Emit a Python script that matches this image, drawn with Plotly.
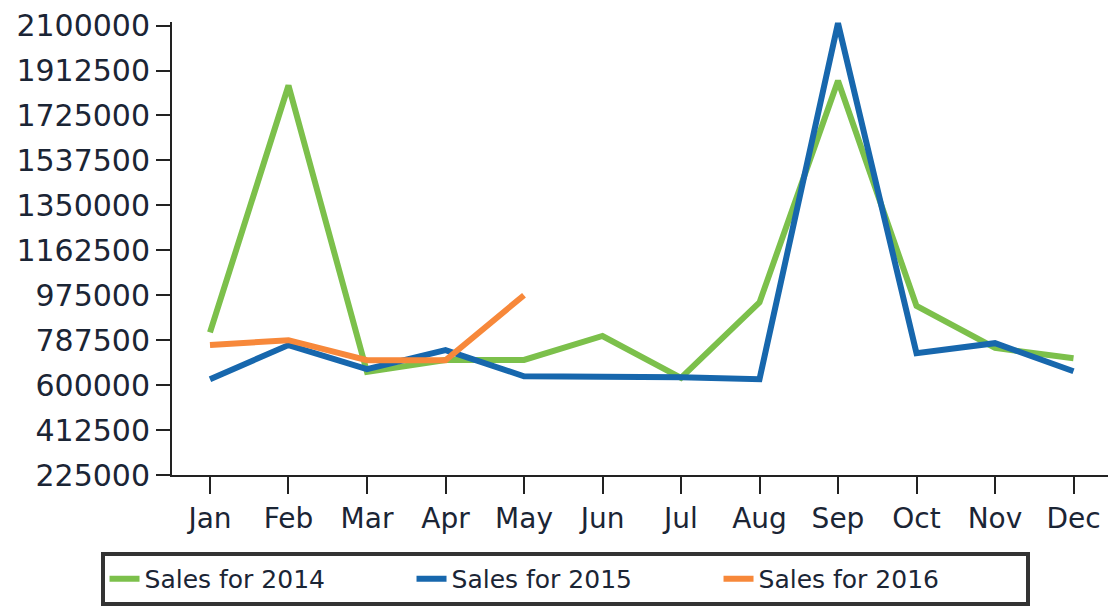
import plotly.graph_objects as go

months = ["Jan", "Feb", "Mar", "Apr", "May", "Jun", "Jul", "Aug", "Sep", "Oct", "Nov", "Dec"]
sales_2014 = [820000, 1850000, 655000, 705000, 705000, 805000, 630000, 945000, 1870000, 930000, 755000, 712000]
sales_2015 = [625000, 767000, 667000, 746000, 637000, 637000, 633000, 625000, 2110000, 733000, 775000, 658000]
months_2016 = ["Jan", "Feb", "Mar", "Apr", "May"]
sales_2016 = [767000, 787500, 704000, 704000, 975000]
y_ticks = [225000, 412500, 600000, 787500, 975000, 1162500, 1350000, 1537500, 1725000, 1912500, 2100000]

font_family = "DejaVu Sans"
text_color = "#1b2535"

fig = go.Figure()
fig.add_trace(go.Scatter(x=months, y=sales_2014, mode="lines", name="Sales for 2014",
                         line=dict(color="#7cc04b", width=6)))
fig.add_trace(go.Scatter(x=months, y=sales_2015, mode="lines", name="Sales for 2015",
                         line=dict(color="#1767ad", width=6)))
fig.add_trace(go.Scatter(x=months_2016, y=sales_2016, mode="lines", name="Sales for 2016",
                         line=dict(color="#f7883a", width=6)))

fig.update_layout(
    width=1108, height=601,
    margin=dict(l=164, r=6, t=14, b=134, autoexpand=False),
    paper_bgcolor="white", plot_bgcolor="white",
    font=dict(family=font_family, color=text_color),
    showlegend=True,
    legend=dict(
        orientation="h",
        xref="paper", yref="container",
        x=0.419, xanchor="center",
        y=0.005, yanchor="bottom",
        bordercolor="#333333", borderwidth=4, bgcolor="white",
        font=dict(size=25, family=font_family, color=text_color),
        entrywidth=262, entrywidthmode="pixels",
    ),
)
fig.update_xaxes(
    type="category", categoryorder="array", categoryarray=months,
    range=[-0.484, 11.465], automargin=False,
    showgrid=False, showline=True, linecolor="#222222", linewidth=2,
    ticks="outside", ticklen=17, tickwidth=2, tickcolor="#222222",
    tickfont=dict(size=28, family=font_family, color=text_color),
    ticklabeloverflow="allow",
    zeroline=False,
)
fig.update_yaxes(
    range=[225000, 2115000], automargin=False,
    tickvals=y_ticks, ticktext=[str(v) for v in y_ticks],
    showgrid=False, showline=True, linecolor="#222222", linewidth=2, mirror=True,
    ticks="outside", ticklen=14, tickwidth=2, tickcolor="#222222",
    tickfont=dict(size=30, family=font_family, color=text_color),
    ticklabeloverflow="allow",
    zeroline=False,
)

fig.write_html("out.html")
